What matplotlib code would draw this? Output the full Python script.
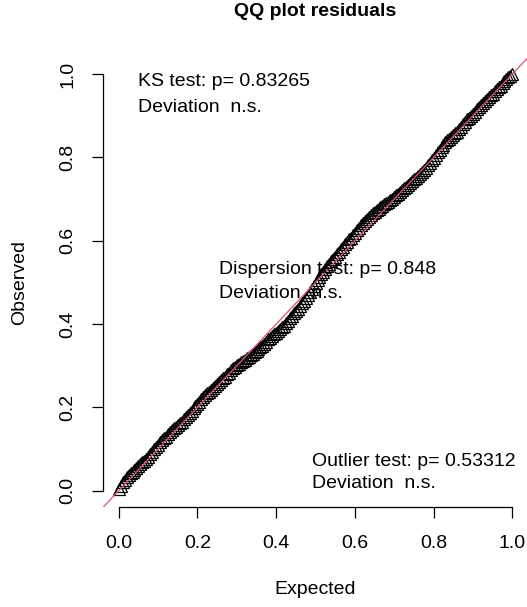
import numpy as np
import matplotlib.pyplot as plt

# observed (sorted scaled residuals), one per expected quantile
observed = [
    0.004, 0.012, 0.020, 0.026, 0.032, 0.037, 0.042, 0.046, 0.050, 0.055,
    0.059, 0.064, 0.068, 0.072, 0.076, 0.082, 0.087, 0.093, 0.099, 0.105,
    0.110, 0.116, 0.121, 0.126, 0.130, 0.136, 0.142, 0.146, 0.150, 0.154,
    0.157, 0.162, 0.166, 0.172, 0.177, 0.182, 0.186, 0.192, 0.198, 0.203,
    0.207, 0.213, 0.219, 0.225, 0.230, 0.234, 0.238, 0.242, 0.246, 0.251,
    0.255, 0.261, 0.266, 0.270, 0.274, 0.279, 0.283, 0.289, 0.294, 0.298,
    0.302, 0.305, 0.308, 0.311, 0.314, 0.318, 0.321, 0.325, 0.328, 0.332,
    0.336, 0.340, 0.344, 0.348, 0.352, 0.358, 0.363, 0.367, 0.371, 0.375,
    0.379, 0.384, 0.388, 0.392, 0.396, 0.402, 0.408, 0.414, 0.420, 0.426,
    0.431, 0.437, 0.443, 0.450, 0.456, 0.463, 0.470, 0.477, 0.484, 0.491,
    0.498, 0.505, 0.512, 0.519, 0.526, 0.533, 0.539, 0.545, 0.551, 0.557,
    0.562, 0.568, 0.574, 0.580, 0.586, 0.592, 0.598, 0.603, 0.607, 0.613,
    0.619, 0.625, 0.631, 0.637, 0.642, 0.648, 0.653, 0.658, 0.662, 0.666,
    0.670, 0.674, 0.677, 0.681, 0.684, 0.687, 0.690, 0.694, 0.697, 0.701,
    0.705, 0.709, 0.713, 0.718, 0.722, 0.726, 0.730, 0.734, 0.738, 0.743,
    0.747, 0.751, 0.755, 0.760, 0.764, 0.770, 0.775, 0.781, 0.787, 0.793,
    0.799, 0.806, 0.812, 0.818, 0.824, 0.830, 0.836, 0.841, 0.845, 0.849,
    0.853, 0.858, 0.862, 0.868, 0.874, 0.880, 0.886, 0.891, 0.895, 0.900,
    0.904, 0.910, 0.916, 0.921, 0.925, 0.931, 0.936, 0.940, 0.944, 0.949,
    0.953, 0.959, 0.964, 0.968, 0.972, 0.978, 0.983, 0.988, 0.992, 0.996,
    1.000,
]
# uniform expected quantiles
expected = np.linspace(0, 1, len(observed))

tick_vals = [0.0, 0.2, 0.4, 0.6, 0.8, 1.0]
tick_labels = ["0.0", "0.2", "0.4", "0.6", "0.8", "1.0"]

ks_lines = ["KS test: p= 0.83265", "Deviation  n.s."]
disp_lines = ["Dispersion test: p= 0.848", "Deviation  n.s."]
out_lines = ["Outlier test: p= 0.53312", "Deviation  n.s."]

plt.rcParams["font.family"] = ["Liberation Sans", "DejaVu Sans"]
plt.rcParams["font.size"] = 14

W, H = 527, 607
fig = plt.figure(figsize=(W / 100, H / 100), dpi=100)
ax = fig.add_axes([103 / W, (H - 507.4) / H, 425.1 / W, 450 / H])

ax.plot(expected, observed, linestyle="none", marker="^", ms=8,
        mfc="none", mec="black", mew=0.9, zorder=3)
ax.plot([-0.04, 1.04], [-0.04, 1.04], color="#DF536B", lw=0.9, zorder=4)

ax.set_xlim(-0.04, 1.04)
ax.set_ylim(-0.04, 1.04)
for s in ["top", "right"]:
    ax.spines[s].set_visible(False)
ax.spines["left"].set_bounds(0, 1)
ax.spines["bottom"].set_bounds(0, 1)
for s in ["left", "bottom"]:
    ax.spines[s].set_linewidth(0.9)

ax.set_xticks(tick_vals)
ax.set_xticklabels(tick_labels)
ax.set_yticks(tick_vals)
ax.set_yticklabels(tick_labels, rotation=90, va="center")
ax.tick_params(axis="both", length=8, width=0.9, direction="out", labelsize=14)
ax.tick_params(axis="x", pad=12)
ax.tick_params(axis="y", pad=11)

def px(x, y):
    return x / W, 1 - y / H

# legends drawn as plain text lines
for lines, x0, ys in [(ks_lines, 138, [82, 107]),
                      (disp_lines, 219, [270, 294]),
                      (out_lines, 312, [461, 484])]:
    for txt, yy in zip(lines, ys):
        fig.text(*px(x0, yy), txt, ha="left", va="center", fontsize=14)

fig.text(*px(315, 11), "QQ plot residuals", ha="center", va="center",
         fontsize=14, fontweight="bold")
fig.text(*px(315, 590), "Expected", ha="center", va="center", fontsize=14)
fig.text(*px(20, 282), "Observed", ha="center", va="center", fontsize=14,
         rotation=90)

fig.savefig("out.png", dpi=100)
